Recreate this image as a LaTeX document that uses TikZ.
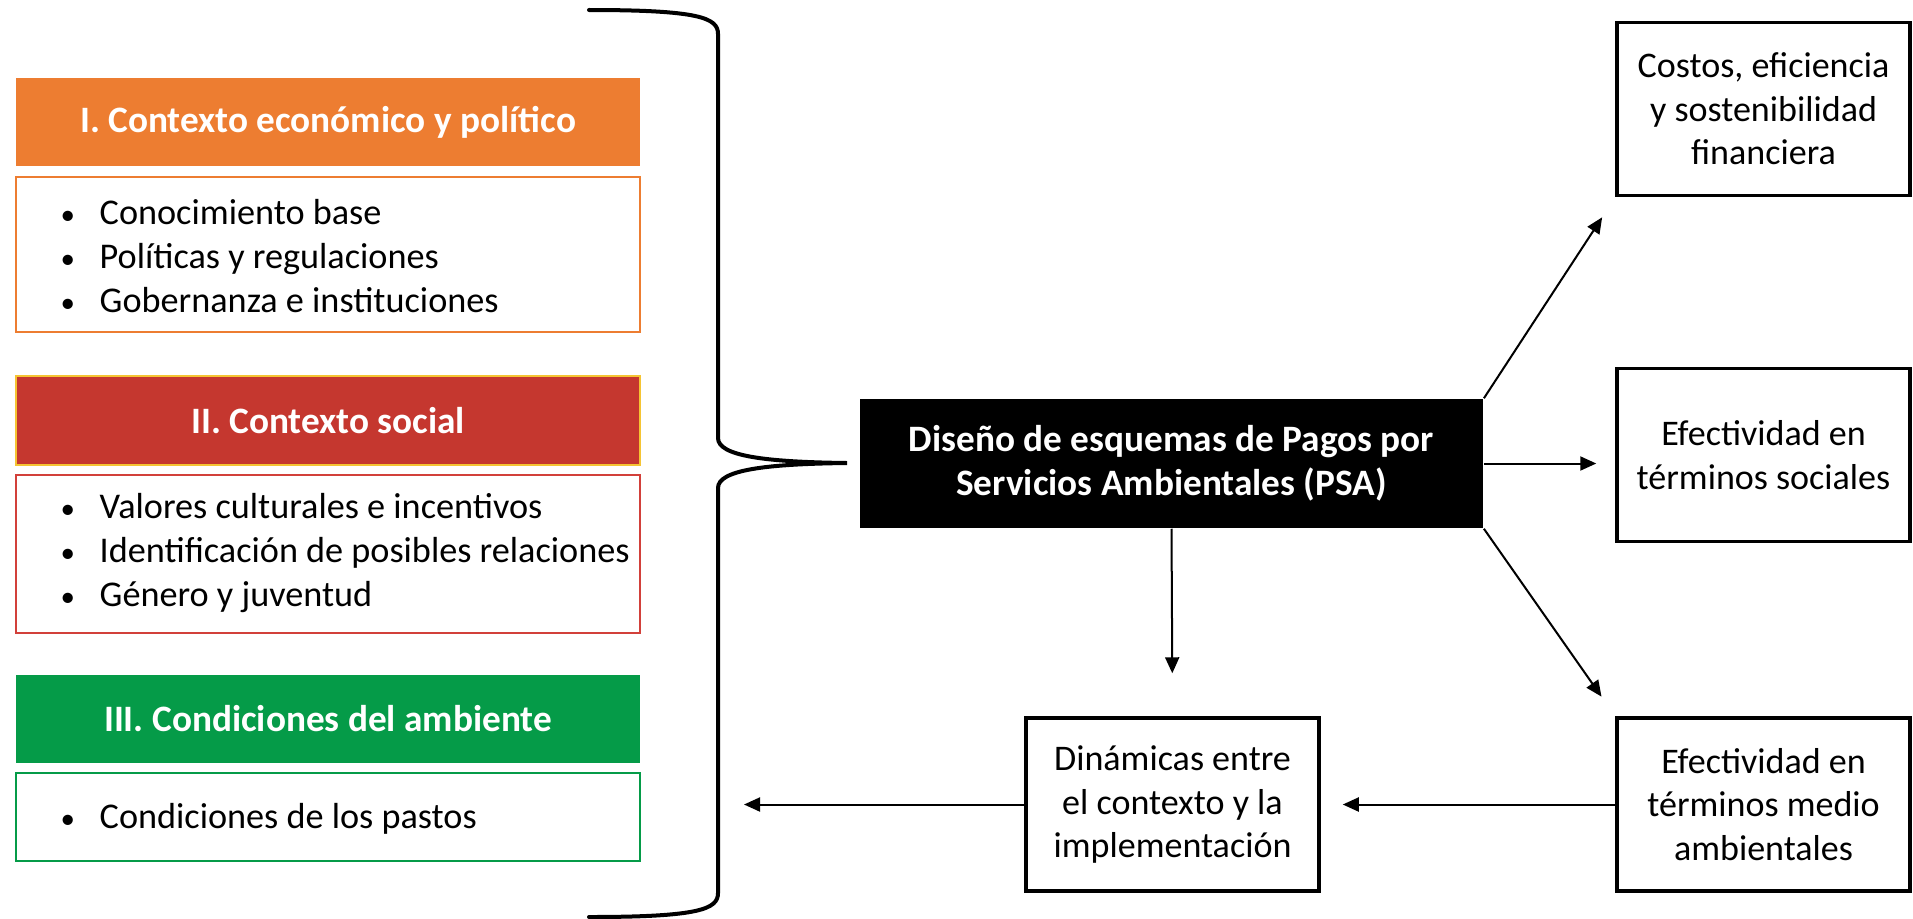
\documentclass[tikz,border=0pt]{standalone}
\usepackage{fontspec}
\setmainfont{Carlito}
\usetikzlibrary{arrows.meta}

\definecolor{naranja}{HTML}{ED7D31}
\definecolor{rojo}{HTML}{C5372F}
\definecolor{rojoborde}{HTML}{D2403A}
\definecolor{verde}{HTML}{059B48}
\definecolor{oro}{HTML}{F5C433}

\newcommand\txt{\fontsize{10.25}{12.4}\selectfont}
\newcommand\negr{\fontsize{10.6}{12.4}\selectfont\bfseries}
\newcommand\lsttxt{\fontsize{10.3}{12.6}\selectfont}
\newcommand\punto{\makebox[0.39cm][l]{\scalebox{0.8}{\textbullet}}}

\tikzset{
	hdr/.style={minimum width=6.24cm, minimum height=0.88cm, inner sep=0pt, text=white, font=\negr},
	lst/.style={draw, line width=0.02cm, minimum width=6.24cm, inner sep=0pt},
	items/.style={anchor=west, inner sep=0pt, align=left, font=\lsttxt},
	psabox/.style={fill=black, text=white, minimum width=6.23cm, minimum height=1.29cm, align=center, font=\negr},
	outbox/.style={draw, line width=0.033cm, minimum width=2.93cm, minimum height=1.73cm, inner sep=0pt, align=center, font=\txt},
	arr/.style={line width=0.02cm, -{Triangle[length=0.16cm, width=0.14cm]}},
	llave/.style={line width=0.04cm, line cap=round}
}

\begin{document}
\begin{tikzpicture}[x=0.01cm, y=-0.01cm]
	\useasboundingbox (0,0) rectangle (1913,918);

	\node [hdr, fill=naranja] (ctxA) at (328,122) {I. Contexto económico y político};
	\node [lst, draw=naranja, minimum height=1.55cm] (lstA) at (328,254.5) {};
	\node [items] (itmA) at (60,256) {\punto Conocimiento base\\ \punto Políticas y regulaciones\\ \punto Gobernanza e instituciones};

	\node [hdr, fill=rojo, draw=oro, line width=0.02cm] (ctxB) at (328,420.5) {II. Contexto social};
	\node [lst, draw=rojoborde, minimum height=1.58cm] (lstB) at (328,554) {};
	\node [items] (itmB) at (60,553) {\punto Valores culturales e incentivos\\ \punto Identificación de posibles relaciones\\ \punto Género y juventud};

	\node [hdr, fill=verde] (ctxC) at (328,719) {III. Condiciones del ambiente};
	\node [lst, draw=verde, minimum height=0.88cm] (lstC) at (328,817) {};
	\node [items] (itmC) at (60,819) {\punto Condiciones de los pastos};

	\draw [llave] (589,10) .. controls (700,10) and (718,18) .. (718,34) -- (718,438)
		.. controls (718,456) and (765,462) .. (847,463)
		.. controls (765,464) and (718,470) .. (718,488) -- (718,893)
		.. controls (718,909) and (700,917) .. (589,917);

	\node [psabox] (psa) at (1171.5,463.5) {Diseño de esquemas de Pagos por\\ Servicios Ambientales (PSA)};

	\node [outbox] (costos) at (1763.5,109) {Costos, eficiencia\\ y sostenibilidad\\ financiera};
	\node [outbox] (social) at (1763.5,455) {Efectividad en\\ términos sociales};
	\node [outbox] (ambiente) at (1763.5,804.5) {Efectividad en\\ términos medio\\ ambientales};
	\node [outbox] (dinamicas) at (1172.5,804.5) {Dinámicas entre\\ el contexto y la\\ implementación};

	\coordinate (ctxfin) at (744,804.5);

	\draw [arr, shorten >=0.24cm] (psa.north east) -- (costos.south west);
	\draw [arr, shorten >=0.19cm] (psa.east) -- (psa.east -| social.west);
	\draw [arr, shorten >=0.24cm] (psa.south east) -- (ambiente.north west);
	\draw [arr, shorten >=0.43cm] (psa.south) -- (dinamicas.north);
	\draw [arr, shorten >=0.22cm] (ambiente.west) -- (dinamicas.east);
	\draw [arr] (dinamicas.west) -- (ctxfin);
\end{tikzpicture}
\end{document}
